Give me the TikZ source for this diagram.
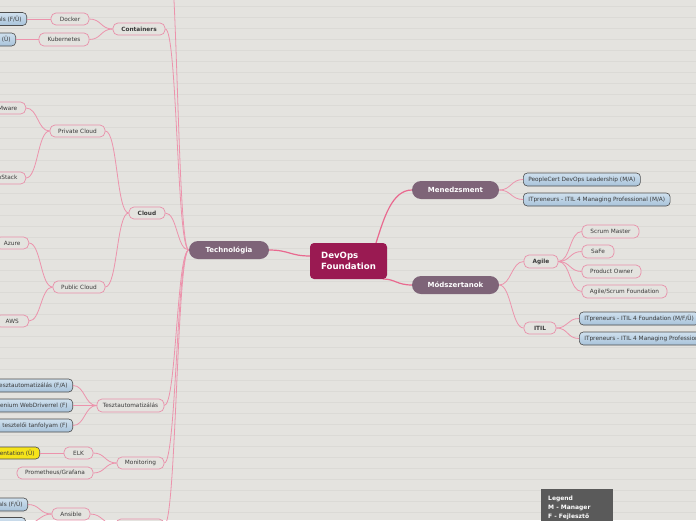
\documentclass[tikz,border=0pt]{standalone}
\usepackage{fontspec}
\setmainfont{DejaVu Sans}
\definecolor{bgc}{HTML}{E4E3DF}
\definecolor{rulec}{HTML}{DBDAD6}
\definecolor{pkmain}{HTML}{E9698F}
\definecolor{pkline}{HTML}{EC93AC}
\definecolor{pkb}{HTML}{E890AA}
\definecolor{mauve}{HTML}{7E6478}
\definecolor{crim}{HTML}{9A1A52}
\definecolor{blt}{HTML}{CFE0EE}
\definecolor{blb}{HTML}{A8C3DA}
\definecolor{bd}{HTML}{4E4E4E}
\definecolor{yel}{HTML}{F5E31A}
\definecolor{leg}{HTML}{5A5A5A}
\definecolor{txt}{HTML}{3A3A3A}
\tikzset{
  sm/.style={font=\fontsize{5.8}{6.5}\selectfont},
  pk/.style={sm, draw=pkb, line width=0.7pt, fill=bgc, rounded corners=5pt, inner sep=0pt, text=txt, minimum height=12pt},
  pkbold/.style={pk, font=\fontsize{5.8}{6.5}\selectfont\bfseries},
  bl/.style={sm, draw=bd, line width=0.6pt, top color=blt, bottom color=blb, rounded corners=4pt, minimum height=13pt, inner xsep=5pt, inner ysep=0pt, text=txt},
  yl/.style={sm, draw=bd, line width=0.6pt, fill=yel, rounded corners=4pt, minimum height=12pt, inner xsep=5pt, inner ysep=0pt, text=txt},
  mainn/.style={fill=mauve, rounded corners=9pt, text=white, font=\fontsize{7}{8}\selectfont\bfseries, minimum height=18pt, inner sep=0pt},
  centr/.style={fill=crim, rounded corners=4pt, text=white, font=\fontsize{8.6}{11}\selectfont\bfseries, minimum width=77pt, minimum height=36pt, inner sep=0pt, align=left},
  mline/.style={draw=pkmain, line width=1.2pt},
  sline/.style={draw=pkline, line width=0.8pt},
}
\newcommand\lcon[3]{\draw[#1] (#2) .. controls +(-12,0) and +(12,0) .. (#3);}
\newcommand\rcon[3]{\draw[#1] (#2) .. controls +(12,0) and +(-12,0) .. (#3);}
\begin{document}
\begin{tikzpicture}[x=1pt,y=-1pt]
\fill[bgc] (0,0) rectangle (696,520);
\clip (0,0) rectangle (696,520);
\foreach \y in {6,17,...,517} \draw[rulec, line width=0.4pt] (0,\y) -- (696,\y);

% coordinates for off-page items
\coordinate (topc) at (166,-70);

% connectors first (drawn below nodes)
\path (310,256) coordinate (cw) (376,243) coordinate (cn) (383,279) coordinate (cs);
\path (189,250) coordinate (tw) (269,250) coordinate (te);
\draw[mline] (cw) .. controls +(-20,0) and +(20,0) .. (te);
\draw[mline] (cn) .. controls +(8,-25) and +(-20,0) .. (412,190);
\draw[mline] (cs) .. controls +(12,0) and +(-15,0) .. (412,285);

% main nodes
\node[centr] (dev) at (348.5,261) {DevOps\\Foundation};
\node[mainn, minimum width=80pt] (tech) at (229,250) {Technológia};
\node[mainn, minimum width=87pt] (men) at (455.5,190) {Menedzsment};
\node[mainn, minimum width=87pt] (mod) at (455.5,285) {Módszertanok};

% right side
\node[bl, anchor=west] (pc) at (523,179.5) {PeopleCert DevOps Leadership (M/A)};
\node[bl, anchor=west] (itm) at (523,199.5) {ITpreneurs - ITIL 4 Managing Professional (M/A)};
\rcon{sline}{men.east}{pc.west}
\rcon{sline}{men.east}{itm.west}

\node[pkbold, minimum width=34pt, minimum height=13pt] (agile) at (541,261.5) {Agile};
\node[pkbold, minimum width=32pt] (itil) at (540,328) {ITIL};
\rcon{sline}{mod.east}{agile.west}
\rcon{sline}{mod.east}{itil.west}

\node[pk, minimum width=57pt, minimum height=13pt] (scrum) at (610.5,231.5) {Scrum Master};
\node[pk, minimum width=32pt, minimum height=13pt] (safe) at (598,251.5) {SaFe};
\node[pk, minimum width=59pt, minimum height=13pt] (po) at (611.5,271.5) {Product Owner};
\node[pk, minimum width=85pt, minimum height=13pt] (asf) at (624.5,291.5) {Agile/Scrum Foundation};
\foreach \n in {scrum,safe,po,asf} {\rcon{sline}{agile.east}{\n.west}}

\node[bl, anchor=west] (itf) at (579,318.5) {ITpreneurs - ITIL 4 Foundation (M/F/Ü)};
\node[bl, anchor=west] (itmp) at (579,338.5) {ITpreneurs - ITIL 4 Managing Professional (M/F/Ü)};
\rcon{sline}{itil.east}{itf.west}
\rcon{sline}{itil.east}{itmp.west}

% left side, level 2
\node[pkbold, minimum width=52pt] (cont) at (139,29) {Containers};
\node[pkbold, minimum width=36pt] (cloud) at (147,213) {Cloud};
\node[pk, minimum width=67pt, minimum height=13pt] (teszt) at (130.5,405.5) {Tesztautomatizálás};
\node[pk, minimum width=47pt] (moni) at (140.5,463) {Monitoring};
\node[pk, minimum width=48pt] (bot) at (140,525) {};
\lcon{sline}{tech.west}{cont.east}
\lcon{sline}{tech.west}{cloud.east}
\lcon{sline}{tech.west}{teszt.east}
\lcon{sline}{tech.west}{moni.east}
\lcon{sline}{tech.west}{bot.east}
\lcon{sline}{tech.west}{topc}

% containers
\node[pk, minimum width=38pt] (docker) at (70,19) {Docker};
\node[pk, minimum width=50pt, minimum height=13pt] (kube) at (64,39.5) {Kubernetes};
\node[bl, anchor=east] (dockc) at (27,19) {Docker Essentials (F/Ü)};
\node[bl, anchor=east] (kubec) at (16,39.5) {Kubernetes Essentials (Ü)};
\lcon{sline}{cont.west}{docker.east}
\lcon{sline}{cont.west}{kube.east}
\draw[sline] (docker.west) -- (dockc.east);
\draw[sline] (kube.west) -- (kubec.east);

% cloud
\node[pk, minimum width=55pt] (priv) at (77.5,131) {Private Cloud};
\node[pk, minimum width=52pt] (pub) at (79,287) {Public Cloud};
\lcon{sline}{cloud.west}{priv.east}
\lcon{sline}{cloud.west}{pub.east}
\node[pk, anchor=east, minimum width=40pt] (vmw) at (26,108) {VMware};
\node[pk, anchor=east, minimum width=48pt] (ost) at (26,178) {OpenStack};
\lcon{sline}{priv.west}{vmw.east}
\lcon{sline}{priv.west}{ost.east}
\node[pk, anchor=east, minimum width=33pt] (azure) at (29,243) {Azure};
\node[pk, anchor=east, minimum width=33pt] (aws) at (29,321) {AWS};
\lcon{sline}{pub.west}{azure.east}
\lcon{sline}{pub.west}{aws.east}

% teszt
\node[bl, anchor=east] (t1) at (73,385.5) {Tesztautomatizálás (F/A)};
\node[bl, anchor=east] (t2) at (73,405.5) {Tesztelés Selenium WebDriverrel (F)};
\node[bl, anchor=east] (t3) at (73,425.5) {ISTQB tesztelői tanfolyam (F)};
\foreach \n in {t1,t2,t3} {\lcon{sline}{teszt.west}{\n.east}}

% monitoring
\node[pk, minimum width=29pt] (elk) at (78.5,453) {ELK};
\node[pk, minimum width=76pt] (prom) at (55,473) {Prometheus/Grafana};
\lcon{sline}{moni.west}{elk.east}
\lcon{sline}{moni.west}{prom.east}
\node[yl, anchor=east] (ely) at (40,453) {ELK Stack Documentation (Ü)};
\draw[sline] (elk.west) -- (ely.east);

% ansible
\node[pk, minimum width=38pt] (ans) at (71,514) {Ansible};
\lcon{sline}{bot.west}{ans.east}
\node[bl, anchor=east] (ans1) at (28,504.5) {Ansible Essentials (F/Ü)};
\node[bl, anchor=east, minimum width=70pt] (ans2) at (26,524) {};
\lcon{sline}{ans.west}{ans1.east}
\lcon{sline}{ans.west}{ans2.east}

% legend
\fill[leg] (541,489) rectangle (613,530);
\node[text=white, font=\fontsize{6}{9}\selectfont\bfseries, align=left, anchor=north west, inner xsep=0pt, inner ysep=0pt] (legend) at (548,496) {Legend\\M - Manager\\F - Fejlesztő};
\end{tikzpicture}
\end{document}
